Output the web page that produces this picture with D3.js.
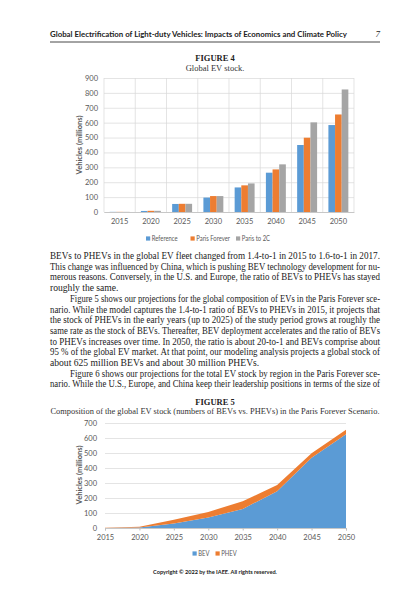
<!DOCTYPE html>
<html>
<head>
<meta charset="utf-8">
<script src="https://cdn.jsdelivr.net/npm/d3@7"></script>
<style>
  body { margin: 0; background: #fff; }
  svg { display: block; }
  .tick text { font-family: Lato, "Open Sans", sans-serif; fill: #595959; }
</style>
</head>
<body>
<div id="page"></div>
<script>
// --- dane ---
var years = ["2015", "2020", "2025", "2030", "2035", "2040", "2045", "2050"];
var scenarios = ["Reference", "Paris Forever", "Paris to 2C"];
var refStock = [1, 7, 54, 97, 165, 264, 450, 584];
var parisForever = [1, 8, 55, 107, 179, 286, 499, 655];
var parisTo2C = [1, 8, 55, 107, 192, 320, 602, 823];
var ticks1 = [0, 100, 200, 300, 400, 500, 600, 700, 800, 900];

var bev = [0.7, 4, 30, 70, 127, 245, 468, 625];
var phev = [0.5, 4, 25, 37, 52, 41, 31, 30];
var ticks2 = [0, 100, 200, 300, 400, 500, 600, 700];

var colors = ["#5B9BD5", "#ED7D31", "#A5A5A5"];

var header = "Global Electrification of Light-duty Vehicles: Impacts of Economics and Climate Policy";
// [text, justified, indent]
var bodyLines = [
	["BEVs to PHEVs in the global EV fleet changed from 1.4-to-1 in 2015 to 1.6-to-1 in 2017.", true, 0],
	["This change was influenced by China, which is pushing BEV technology development for nu-", true, 0],
	["merous reasons. Conversely, in the U.S. and Europe, the ratio of BEVs to PHEVs has stayed", true, 0],
	["roughly the same.", false, 0],
	["Figure 5 shows our projections for the global composition of EVs in the Paris Forever sce-", true, 1],
	["nario. While the model captures the 1.4-to-1 ratio of BEVs to PHEVs in 2015, it projects that", true, 0],
	["the stock of PHEVs in the early years (up to 2025) of the study period grows at roughly the", true, 0],
	["same rate as the stock of BEVs. Thereafter, BEV deployment accelerates and the ratio of BEVs", true, 0],
	["to PHEVs increases over time. In 2050, the ratio is about 20-to-1 and BEVs comprise about", true, 0],
	["95 % of the global EV market. At that point, our modeling analysis projects a global stock of", true, 0],
	["about 625 million BEVs and about 30 million PHEVs.", false, 0],
	["Figure 6 shows our projections for the total EV stock by region in the Paris Forever sce-", true, 1],
	["nario. While the U.S., Europe, and China keep their leadership positions in terms of the size of", true, 0]
];

var W = 420, H = 600;
var serif = "'Liberation Serif', 'DejaVu Serif', serif";
var sans = "Lato, 'Open Sans', sans-serif";

var svg = d3.select("#page").append("svg")
	.attr("width", W)
	.attr("height", H);

svg.append("rect").attr("width", W).attr("height", H).attr("fill", "#fff");

// --- naglowek strony ---
svg.append("text")
	.attr("x", 50).attr("y", 37)
	.attr("font-family", sans).attr("font-weight", "bold").attr("font-size", 8.2)
	.attr("textLength", 297).attr("lengthAdjust", "spacingAndGlyphs")
	.attr("fill", "#222")
	.text(header);
svg.append("text")
	.attr("x", 380).attr("y", 37)
	.attr("text-anchor", "end")
	.attr("font-family", serif).attr("font-style", "italic").attr("font-size", 9)
	.attr("fill", "#222")
	.text("7");
svg.append("line")
	.attr("x1", 50).attr("x2", 380).attr("y1", 42).attr("y2", 42)
	.attr("stroke", "#333").attr("stroke-width", 0.9);

function figTitle(label, sub, y, subLen) {
	svg.append("text")
		.attr("x", 215).attr("y", y)
		.attr("text-anchor", "middle")
		.attr("font-family", serif).attr("font-weight", "bold").attr("font-size", 8.5)
		.attr("fill", "#222")
		.text(label);
	var t = svg.append("text")
		.attr("x", 215).attr("y", y + 9.5)
		.attr("text-anchor", "middle")
		.attr("font-family", serif).attr("font-size", 8.5)
		.attr("fill", "#333")
		.text(sub);
	if (subLen) t.attr("textLength", subLen).attr("lengthAdjust", "spacingAndGlyphs");
}

// legenda - tekst lekko sciesniony (jak Calibri)
function legend(items, cols, xs, y) {
	items.forEach(function(d, i) {
		svg.append("rect")
			.attr("x", xs[i]).attr("y", y - 4.6)
			.attr("width", 4.2).attr("height", 4.2)
			.attr("fill", cols[i]);
		var t = svg.append("text")
			.attr("x", xs[i] + 5.8).attr("y", y)
			.attr("font-family", sans).attr("font-size", 7)
			.attr("fill", "#595959")
			.text(d);
		var len = t.node().getComputedTextLength();
		t.attr("textLength", len * 0.84).attr("lengthAdjust", "spacingAndGlyphs");
	});
}

// === FIGURE 4 ===
figTitle("FIGURE 4", "Global EV stock.", 61);

var p1 = { left: 104, right: 354, top: 78, bottom: 212 };
var x1 = d3.scaleBand().domain(years).range([p1.left, p1.right]).paddingInner(0);
var xs1 = d3.scaleBand().domain(scenarios).range([0, x1.bandwidth()]).paddingInner(0).paddingOuter(0.85);
var y1 = d3.scaleLinear().domain([0, 900]).range([p1.bottom, p1.top]);

var g1 = svg.append("g");

// siatka pionowa
var vx = years.map(function(d) { return x1(d); }).concat([p1.right]);
g1.selectAll(".vgrid").data(vx).enter().append("line")
	.attr("x1", function(d) { return d; }).attr("x2", function(d) { return d; })
	.attr("y1", p1.top).attr("y2", p1.bottom)
	.attr("stroke", "#d9d9d9").attr("stroke-width", 0.7);

var yAxis1 = g1.append("g")
	.attr("transform", "translate(" + p1.left + ",0)")
	.call(d3.axisLeft(y1).tickValues(ticks1).tickSize(-(p1.right - p1.left)).tickPadding(6));
yAxis1.select(".domain").remove();
yAxis1.selectAll(".tick line").attr("stroke", "#d9d9d9").attr("stroke-width", 0.7);
yAxis1.selectAll(".tick text").attr("font-size", 7.5);

var series1 = [refStock, parisForever, parisTo2C];
series1.forEach(function(vals, si) {
	g1.selectAll(".bar" + si).data(vals).enter().append("rect")
		.attr("x", function(d, i) { return x1(years[i]) + xs1(scenarios[si]); })
		.attr("width", xs1.bandwidth())
		.attr("y", function(d) { return y1(d); })
		.attr("height", function(d) { return y1(0) - y1(d); })
		.attr("fill", colors[si]);
});

var xAxis1 = g1.append("g")
	.attr("transform", "translate(0," + p1.bottom + ")")
	.call(d3.axisBottom(x1).tickSize(0).tickPadding(7));
xAxis1.select(".domain").attr("stroke", "#bfbfbf").attr("stroke-width", 0.8);
xAxis1.selectAll(".tick text").attr("font-size", 7.5);

svg.append("text")
	.attr("transform", "translate(82,145) rotate(-90)")
	.attr("text-anchor", "middle")
	.attr("font-family", sans).attr("font-weight", "bold").attr("font-size", 7.5)
	.attr("fill", "#595959")
	.text("Vehicles (millions)");

legend(scenarios, colors, [146, 190.5, 236], 241);

// --- tekst ---
var body = svg.append("g");
bodyLines.forEach(function(l, i) {
	var x0 = l[2] ? 70 : 50;
	var t = body.append("text")
		.attr("x", x0).attr("y", 259 + i * 10.7)
		.attr("font-family", serif).attr("font-size", 9.6)
		.attr("fill", "#222")
		.attr("xml:space", "preserve")
		.text(l[0]);
	if (l[1]) t.attr("textLength", 380 - x0).attr("lengthAdjust", "spacingAndGlyphs");
});

// === FIGURE 5 ===
figTitle("FIGURE 5", "Composition of the global EV stock (numbers of BEVs vs. PHEVs) in the Paris Forever Scenario.", 404.5, 329);

var p2 = { left: 105, right: 346, top: 423, bottom: 528 };
var x2 = d3.scalePoint().domain(years).range([p2.left, p2.right]);
var y2 = d3.scaleLinear().domain([0, 700]).range([p2.bottom, p2.top]);

var g2 = svg.append("g");
var yAxis2 = g2.append("g")
	.attr("transform", "translate(" + p2.left + ",0)")
	.call(d3.axisLeft(y2).tickValues(ticks2).tickSize(-(p2.right - p2.left)).tickPadding(8));
yAxis2.select(".domain").remove();
yAxis2.selectAll(".tick line").attr("stroke", "#d9d9d9").attr("stroke-width", 0.7);
yAxis2.selectAll(".tick text").attr("font-size", 7.5);

var table = years.map(function(yr, i) { return { year: yr, BEV: bev[i], PHEV: phev[i] }; });
var stack = d3.stack().keys(["BEV", "PHEV"])(table);
var area = d3.area()
	.x(function(d) { return x2(d.data.year); })
	.y0(function(d) { return y2(d[0]); })
	.y1(function(d) { return y2(d[1]); });

g2.selectAll(".layer").data(stack).enter().append("path")
	.attr("d", area)
	.attr("fill", function(d, i) { return colors[i]; });

var xAxis2 = g2.append("g")
	.attr("transform", "translate(0," + p2.bottom + ")")
	.call(d3.axisBottom(x2).tickSize(2.5).tickPadding(4));
xAxis2.select(".domain").attr("stroke", "#bfbfbf").attr("stroke-width", 0.8);
xAxis2.selectAll(".tick line").attr("stroke", "#bfbfbf");
xAxis2.selectAll(".tick text").attr("font-size", 7.5);

svg.append("text")
	.attr("transform", "translate(82,475) rotate(-90)")
	.attr("text-anchor", "middle")
	.attr("font-family", sans).attr("font-weight", "bold").attr("font-size", 7.5)
	.attr("fill", "#595959")
	.text("Vehicles (millions)");

legend(["BEV", "PHEV"], colors, [192.5, 215.5], 556);

// stopka
svg.append("text")
	.attr("x", 215).attr("y", 573.5)
	.attr("text-anchor", "middle")
	.attr("font-family", sans).attr("font-weight", "bold").attr("font-size", 5.6)
	.attr("fill", "#222")
	.text("Copyright © 2022 by the IAEE. All rights reserved.");
</script>
</body>
</html>
